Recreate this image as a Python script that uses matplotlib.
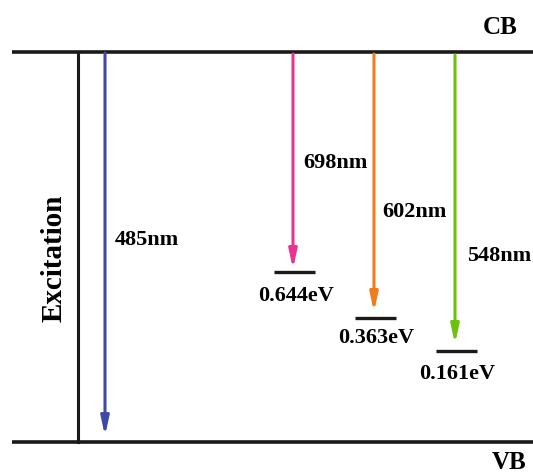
import matplotlib.pyplot as plt

# emission transitions (CB -> trap level)
wavelengths = ['485nm', '698nm', '602nm', '548nm']
colors = ['#3f4aa8', '#e8368e', '#f07c1c', '#6cc10a']
trap_labels = ['', '0.644eV', '0.363eV', '0.161eV']

# layout (pixel-like coordinates, y grows downward)
CB_Y, VB_Y = 52, 442
arrow_x = [105, 293, 374, 455]
arrow_top = [53, 54, 54, 55]
arrow_tip = [436, 269, 312, 344]
trap_y = [None, 272, 318, 351]
label_xy = [(115, 240), (303, 163), (382, 212), (467, 256)]
trap_label_xy = [None, (296, 296), (376, 338), (457, 374)]

plt.rcParams['font.family'] = ['Liberation Serif', 'DejaVu Serif']
plt.rcParams['font.weight'] = 'bold'

fig = plt.figure(figsize=(5.33, 4.73), dpi=100)
ax = fig.add_axes([0, 0, 1, 1])
ax.set_xlim(0, 533)
ax.set_ylim(473, 0)
ax.axis('off')

# bands
ax.plot([12, 533], [CB_Y, CB_Y], color='#1a1a1a', lw=2.6, solid_capstyle='butt')
ax.plot([12, 533], [VB_Y, VB_Y], color='#1a1a1a', lw=2.6, solid_capstyle='butt')
ax.text(500, 27, 'CB', fontsize=18, fontweight='bold', ha='center', va='center')
ax.text(509, 462, 'VB', fontsize=18, fontweight='bold', ha='center', va='center')

# excitation line
ax.plot([78, 78], [CB_Y, VB_Y], color='#1a1a1a', lw=2.2)
ax.text(54, 258, 'Excitation', fontsize=21, fontweight='bold', rotation=90,
        ha='center', va='center')

for i in range(len(wavelengths)):
    ax.annotate('', xy=(arrow_x[i], arrow_tip[i]), xytext=(arrow_x[i], arrow_top[i]),
                arrowprops=dict(arrowstyle='-|>,head_length=1.1,head_width=0.24',
                                mutation_scale=10, color=colors[i], lw=2.2,
                                shrinkA=0, shrinkB=0))
    ax.text(label_xy[i][0], label_xy[i][1], wavelengths[i], fontsize=16,
            fontweight='bold', ha='left', va='center')
    if trap_y[i] is not None:
        ax.plot([arrow_x[i] - 19, arrow_x[i] + 22], [trap_y[i], trap_y[i]],
                color='#1a1a1a', lw=2.4, solid_capstyle='butt')
        ax.text(trap_label_xy[i][0], trap_label_xy[i][1], trap_labels[i], fontsize=16,
                fontweight='bold', ha='center', va='center')

fig.savefig('out.png', dpi=100)
